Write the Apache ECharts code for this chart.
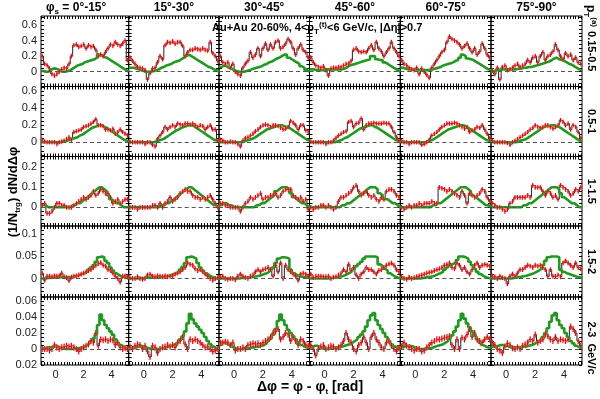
<!DOCTYPE html>
<html>
<head>
<meta charset="utf-8">
<script src="https://cdn.jsdelivr.net/npm/echarts@6.0.0/dist/echarts.min.js"></script>
<style>
  html, body { margin: 0; padding: 0; background: #fff; }
  #main { width: 600px; height: 399px; }
</style>
</head>
<body>
<div id="main"></div>
<script>
// columns: trigger angle w.r.t. event plane, rows: associated pT bins
var phiBins = ['0°-15°', '15°-30°', '30°-45°', '45°-60°', '60°-75°', '75°-90°'];
var ptBins = ['0.15-0.5', '0.5-1', '1-1.5', '1.5-2', '2-3  GeV/c'];

// 36 bins of 10 deg from -pi/3 to 5pi/3
var NB = 36;
var LO = -Math.PI / 3, HI = 5 * Math.PI / 3;

var xTickLabels = [0, 2, 4];
var yTickLabels = [[0, 0.2, 0.4, 0.6], [0, 0.2, 0.4, 0.6], [0, 0.1, 0.2], [0, 0.05, 0.1], [-0.02, 0, 0.02, 0.04, 0.06]];
var yMin = [-0.19, -0.167, -0.0935, -0.042, -0.02];
var yMax = [0.716, 0.656, 0.254, 0.119, 0.065];
var yMinorStep = [0.05, 0.05, 0.02, 0.01, 0.005];
var errRow = [0.03, 0.026, 0.012, 0.0055, 0.0038];

// red points (data), one array per phi_s column
var red1 = [
  [0.2, 0.1, 0.08, 0.04, -0.03, -0.05, -0.03, 0.0, 0.03, 0.05, 0.04, 0.1,
   0.2, 0.34, 0.35, 0.32, 0.33, 0.35, 0.3, 0.34, 0.32, 0.33, 0.28, 0.2,
   0.22, 0.2, 0.25, 0.3, 0.35, 0.33, 0.38, 0.35, 0.33, 0.36, 0.4, 0.15],
  [0.18, 0.14, 0.1, 0.06, 0.05, 0.04, 0.02, -0.1, -0.02, 0.04, 0.05, 0.12,
   0.2, 0.16, 0.34, 0.38, 0.37, 0.39, 0.36, 0.38, 0.38, 0.33, 0.2, 0.25,
   0.28, 0.28, 0.3, 0.29, 0.28, 0.3, 0.28, 0.27, 0.38, 0.24, 0.2, 0.14],
  [0.2, 0.12, 0.1, 0.12, 0.05, 0.1, 0.0, -0.03, -0.05, 0.05, 0.1, 0.14,
   0.25, 0.18, 0.22, 0.3, 0.2, 0.3, 0.36, 0.28, 0.35, 0.3, 0.38, 0.4,
   0.3, 0.32, 0.36, 0.42, 0.38, 0.3, 0.22, 0.3, 0.35, 0.28, 0.25, 0.18],
  [0.18, 0.12, 0.08, 0.06, 0.05, 0.07, 0.02, -0.05, 0.04, 0.05, 0.05, 0.06,
   0.06, 0.08, 0.1, 0.1, 0.14, 0.28, 0.3, 0.26, 0.25, 0.26, 0.25, 0.3,
   0.34, 0.28, 0.38, 0.3, 0.26, 0.2, 0.25, 0.3, 0.38, 0.3, 0.25, 0.2],
  [0.15, 0.1, 0.08, 0.05, 0.03, 0.02, 0.05, -0.03, 0.04, 0.0, -0.04, -0.08,
   0.05, 0.1, 0.15, 0.2, 0.25, 0.28, 0.38, 0.45, 0.42, 0.4, 0.38, 0.35,
   0.3, 0.33, 0.36, 0.3, 0.25, 0.3, 0.22, 0.26, 0.36, 0.3, 0.22, 0.18],
  [0.02, -0.03, 0.05, -0.1, 0.06, 0.08, 0.02, 0.03, 0.05, 0.08, 0.1, 0.06,
   0.08, 0.1, 0.15, 0.12, 0.18, 0.2, 0.12, 0.2, 0.25, 0.15, 0.2, 0.22,
   0.26, 0.35, 0.28, 0.2, 0.16, 0.24, 0.2, 0.22, 0.15, 0.18, 0.12, 0.1]
];
var red2 = [
  [0.03, 0.01, 0.0, 0.0, 0.0, 0.0, -0.02, 0.0, 0.01, 0.02, 0.04, 0.06,
   0.03, 0.12, 0.13, 0.14, 0.15, 0.18, 0.19, 0.2, 0.22, 0.24, 0.27, 0.2,
   0.2, 0.19, 0.15, 0.15, 0.14, 0.16, 0.1, 0.12, 0.15, 0.12, 0.1, 0.08],
  [0.01, 0.0, 0.0, 0.0, 0.0, 0.0, -0.02, 0.0, 0.0, -0.03, -0.05, 0.04,
   0.08, 0.12, 0.18, 0.15, 0.18, 0.2, 0.18, 0.22, 0.21, 0.2, 0.22, 0.22,
   0.21, 0.22, 0.2, 0.18, 0.2, 0.19, 0.15, 0.18, 0.2, 0.15, 0.15, 0.02],
  [0.03, 0.02, 0.0, 0.0, 0.01, 0.0, 0.0, -0.02, -0.05, 0.02, 0.05, 0.06,
   0.08, 0.1, 0.13, 0.15, 0.18, 0.2, 0.21, 0.2, 0.18, 0.2, 0.2, 0.19,
   0.17, 0.15, 0.16, 0.18, 0.25, 0.23, 0.2, 0.15, 0.2, 0.2, 0.14, 0.12],
  [0.01, 0.0, 0.0, 0.0, 0.0, 0.0, -0.02, 0.0, 0.0, 0.02, 0.05, 0.08,
   0.1, 0.12, 0.13, 0.24, 0.25, 0.18, 0.22, 0.23, 0.28, 0.15, 0.2, 0.22,
   0.22, 0.23, 0.22, 0.22, 0.22, 0.23, 0.22, 0.22, 0.18, 0.12, 0.06, 0.02],
  [0.02, 0.0, 0.0, -0.02, 0.0, 0.0, 0.0, 0.0, -0.03, -0.02, 0.0, 0.03,
   0.08, 0.1, 0.12, 0.15, 0.18, 0.2, 0.22, 0.22, 0.22, 0.23, 0.22, 0.2,
   0.18, 0.16, 0.18, 0.12, 0.14, 0.15, 0.18, 0.17, 0.2, 0.15, 0.1, 0.05],
  [0.02, 0.0, 0.0, 0.0, 0.0, 0.0, -0.01, -0.03, 0.0, 0.02, 0.04, 0.06,
   0.08, 0.1, 0.12, 0.15, 0.17, 0.2, 0.18, 0.17, 0.18, 0.2, 0.2, 0.18,
   0.16, 0.18, 0.2, 0.26, 0.24, 0.2, 0.22, 0.15, 0.2, 0.18, 0.12, 0.05]
];
var red3 = [
  [0.01, 0.02, -0.03, -0.03, -0.02, 0.0, 0.02, 0.02, 0.01, 0.01, 0.0, 0.0,
   0.0, 0.01, 0.02, 0.03, 0.04, 0.05, 0.04, 0.05, 0.06, 0.08, 0.06, 0.07,
   0.09, 0.08, 0.07, 0.07, 0.05, 0.02, 0.03, 0.04, 0.02, 0.03, 0.04, 0.04],
  [0.0, 0.0, 0.0, -0.01, 0.0, 0.0, 0.0, 0.0, 0.0, 0.01, 0.01, 0.0,
   0.02, 0.0, 0.02, 0.03, 0.05, 0.03, 0.04, 0.05, 0.07, 0.08, 0.09, 0.08,
   0.08, 0.06, 0.05, 0.05, 0.04, 0.05, 0.04, 0.05, 0.06, 0.04, 0.02, 0.0],
  [0.02, 0.02, 0.01, 0.01, 0.0, 0.0, 0.0, 0.0, -0.02, 0.0, 0.02, 0.03,
   0.05, 0.04, 0.05, 0.06, 0.07, 0.04, 0.05, 0.05, 0.06, 0.06, 0.07, 0.05,
   0.06, 0.08, 0.09, 0.09, 0.09, 0.06, 0.05, 0.04, 0.05, 0.03, 0.04, -0.01],
  [0.0, -0.01, 0.0, 0.0, 0.01, 0.01, 0.0, 0.01, 0.0, -0.01, 0.0, 0.03,
   0.05, 0.05, 0.06, 0.07, 0.08, 0.1, 0.11, 0.08, 0.06, 0.07, 0.08, 0.06,
   0.05, 0.06, 0.04, 0.03, 0.05, 0.04, 0.08, 0.09, 0.09, 0.08, 0.06, 0.05],
  [0.0, -0.01, 0.0, 0.01, 0.0, 0.01, 0.01, 0.02, 0.01, 0.02, 0.02, 0.02,
   0.03, 0.02, 0.02, 0.1, 0.095, 0.09, 0.08, 0.09, 0.08, 0.07, 0.06, 0.05,
   0.08, 0.06, 0.02, 0.07, 0.06, 0.05, 0.06, 0.07, 0.09, 0.08, 0.05, 0.03],
  [0.02, 0.01, 0.0, 0.0, -0.01, -0.02, -0.01, 0.02, 0.03, 0.05, 0.05, 0.05,
   0.05, 0.05, 0.06, 0.05, 0.11, 0.1, 0.1, 0.1, 0.08, 0.06, 0.08, 0.07,
   0.05, 0.06, 0.04, 0.11, 0.1, 0.09, 0.08, 0.06, 0.07, 0.09, 0.08, 0.1]
];
var red4 = [
  [0.012, -0.004, 0.005, 0.005, 0.004, 0.006, 0.005, 0.006, 0.012, 0.004, 0.002, -0.005,
   0.003, 0.005, 0.006, 0.008, 0.01, 0.012, 0.015, 0.018, 0.02, 0.025, 0.03, 0.034,
   0.036, 0.03, 0.028, 0.02, 0.018, 0.012, 0.005, 0.0, -0.008, 0.005, 0.006, 0.004],
  [0.002, 0.0, 0.0, 0.004, 0.0, -0.002, 0.0, 0.008, 0.01, 0.005, 0.004, 0.006,
   0.005, 0.004, 0.006, 0.004, 0.005, 0.006, 0.01, 0.012, 0.015, 0.02, 0.025, 0.035,
   0.032, 0.03, 0.022, 0.018, 0.02, 0.015, 0.01, 0.005, 0.0, -0.004, 0.0, 0.002],
  [0.003, 0.005, 0.0, -0.002, 0.0, 0.0, -0.003, 0.005, 0.01, 0.005, 0.002, 0.0,
   0.005, 0.008, 0.015, 0.02, 0.015, 0.02, 0.022, 0.025, 0.02, 0.005, 0.03, 0.015,
   0.035, 0.0, 0.03, 0.02, 0.015, 0.01, 0.005, -0.004, 0.01, 0.012, 0.01, 0.005],
  [0.01, 0.002, 0.005, 0.005, 0.005, 0.004, 0.004, 0.005, 0.0, 0.003, 0.004, 0.008,
   0.012, 0.02, 0.015, 0.032, 0.018, 0.025, 0.008, 0.0, 0.01, 0.015, 0.025, 0.02,
   0.02, 0.015, 0.01, 0.018, 0.02, 0.025, 0.03, 0.033, 0.035, 0.03, 0.02, 0.015],
  [0.004, 0.0, -0.002, 0.003, 0.0, 0.002, 0.004, 0.006, 0.008, 0.01, 0.012, 0.014,
   0.015, 0.018, 0.02, 0.022, 0.025, 0.03, 0.032, 0.035, 0.025, 0.022, 0.035, 0.03,
   0.02, 0.025, 0.015, 0.01, 0.02, 0.03, 0.035, 0.025, 0.03, 0.032, 0.03, 0.028],
  [0.005, 0.004, 0.0, 0.005, 0.002, 0.0, -0.012, 0.005, 0.01, 0.005, 0.012, 0.02,
   0.02, 0.025, 0.03, 0.028, 0.025, 0.03, 0.028, 0.03, 0.025, 0.02, 0.005, 0.02,
   0.005, 0.005, 0.008, 0.004, 0.035, 0.04, 0.035, 0.03, 0.025, 0.035, 0.025, 0.022]
];
var red5 = [
  [0.0, 0.0, 0.0, -0.002, 0.0, 0.005, 0.002, 0.0, 0.002, 0.003, 0.004, 0.003,
   0.004, 0.002, 0.0, -0.003, 0.0, 0.002, 0.004, 0.006, 0.01, 0.008, 0.02, 0.004,
   0.012, 0.011, 0.012, 0.01, 0.012, 0.011, 0.005, 0.008, 0.002, 0.0, 0.001, 0.0],
  [0.003, 0.0, 0.004, 0.006, 0.005, 0.0, 0.004, -0.003, -0.01, 0.004, 0.002, -0.005,
   0.0, 0.002, 0.003, 0.005, 0.003, 0.005, 0.002, 0.008, 0.01, 0.015, 0.006, 0.0,
   0.012, 0.01, 0.012, 0.01, 0.008, 0.005, 0.002, 0.003, 0.0, -0.003, -0.002, 0.0],
  [0.008, 0.008, 0.009, 0.008, 0.005, 0.008, -0.002, 0.0, 0.0, 0.002, 0.0, 0.005,
   0.006, 0.007, 0.006, 0.007, 0.005, 0.008, 0.01, 0.012, 0.015, 0.02, 0.022, 0.025,
   0.012, 0.015, 0.02, 0.018, 0.01, 0.015, 0.01, 0.005, 0.012, 0.01, 0.005, 0.004],
  [0.005, 0.0, -0.008, 0.0, 0.003, 0.005, 0.0, 0.002, 0.004, 0.003, 0.0, 0.002,
   0.005, 0.01, 0.02, 0.012, 0.008, 0.0, -0.003, 0.005, 0.008, 0.015, 0.008, 0.0,
   0.015, 0.02, 0.012, 0.008, 0.002, 0.0, 0.008, 0.01, 0.004, 0.0, -0.003, 0.001],
  [0.003, 0.008, 0.004, 0.002, 0.0, -0.002, 0.0, 0.0, -0.003, -0.002, 0.002, 0.005,
   0.008, 0.01, 0.012, 0.012, 0.013, 0.014, 0.015, 0.016, 0.005, 0.0, 0.012, 0.0,
   0.014, 0.012, 0.018, 0.025, 0.015, 0.02, 0.012, 0.01, 0.008, 0.012, 0.015, 0.012],
  [0.008, 0.005, 0.0, -0.002, -0.005, 0.003, 0.007, 0.005, 0.001, 0.0, 0.002, 0.0,
   0.004, 0.006, 0.008, 0.012, 0.01, 0.018, 0.008, 0.01, 0.012, 0.018, 0.016, 0.012,
   0.01, 0.015, 0.01, 0.012, 0.011, 0.01, 0.012, 0.028, 0.025, 0.02, 0.01, 0.004]
];

// green histograms
var green1 = [
  [0.01, 0.0, 0.0, 0.02, 0.04, 0.04, 0.03, 0.01, 0.0, 0.0, 0.01, 0.02,
   0.04, 0.06, 0.08, 0.09, 0.1, 0.12, 0.13, 0.14, 0.15, 0.16, 0.18, 0.22,
   0.21, 0.19, 0.18, 0.16, 0.14, 0.12, 0.1, 0.08, 0.06, 0.04, 0.02, 0.0],
  [0.05, 0.05, 0.04, 0.03, 0.02, 0.01, 0.0, 0.0, 0.0, 0.01, 0.02, 0.03,
   0.05, 0.06, 0.08, 0.09, 0.1, 0.12, 0.13, 0.14, 0.16, 0.18, 0.2, 0.22,
   0.2, 0.18, 0.16, 0.14, 0.12, 0.1, 0.08, 0.06, 0.05, 0.03, 0.02, 0.0],
  [0.06, 0.08, 0.07, 0.05, 0.04, 0.02, 0.01, 0.0, 0.0, 0.0, 0.01, 0.02,
   0.03, 0.04, 0.05, 0.06, 0.07, 0.09, 0.1, 0.12, 0.13, 0.15, 0.17, 0.18,
   0.2, 0.22, 0.22, 0.18, 0.16, 0.14, 0.12, 0.1, 0.07, 0.05, 0.02, 0.0],
  [0.03, 0.03, 0.02, 0.02, 0.02, 0.03, 0.03, 0.03, 0.03, 0.03, 0.03, 0.03,
   0.03, 0.04, 0.06, 0.08, 0.09, 0.1, 0.11, 0.12, 0.13, 0.14, 0.15, 0.16,
   0.2, 0.2, 0.16, 0.15, 0.15, 0.12, 0.1, 0.08, 0.06, 0.04, 0.02, 0.0],
  [0.05, 0.04, 0.03, 0.03, 0.03, 0.03, 0.03, 0.02, 0.02, 0.02, 0.02, 0.03,
   0.03, 0.04, 0.05, 0.06, 0.08, 0.09, 0.1, 0.11, 0.12, 0.14, 0.15, 0.18,
   0.22, 0.2, 0.17, 0.16, 0.15, 0.13, 0.11, 0.09, 0.07, 0.05, 0.03, 0.02],
  [0.0, 0.02, 0.02, 0.03, 0.03, 0.03, 0.03, 0.03, 0.03, 0.03, 0.04, 0.04,
   0.05, 0.05, 0.06, 0.06, 0.07, 0.08, 0.09, 0.1, 0.11, 0.12, 0.13, 0.15,
   0.17, 0.18, 0.16, 0.15, 0.14, 0.12, 0.1, 0.09, 0.07, 0.05, 0.03, 0.02]
];
var green2 = [
  [0.0, 0.0, 0.0, 0.0, 0.0, 0.0, 0.0, 0.0, 0.01, 0.01, 0.02, 0.03,
   0.04, 0.05, 0.06, 0.08, 0.09, 0.11, 0.13, 0.15, 0.17, 0.18, 0.19, 0.2,
   0.2, 0.18, 0.17, 0.15, 0.13, 0.11, 0.09, 0.07, 0.05, 0.03, 0.02, 0.01],
  [0.0, 0.0, 0.0, 0.0, 0.0, 0.0, 0.0, 0.0, 0.0, 0.0, 0.01, 0.02,
   0.03, 0.04, 0.06, 0.08, 0.1, 0.12, 0.14, 0.15, 0.17, 0.18, 0.19, 0.2,
   0.2, 0.19, 0.17, 0.15, 0.13, 0.11, 0.09, 0.07, 0.05, 0.03, 0.02, 0.01],
  [0.0, 0.0, 0.0, 0.0, 0.0, 0.0, 0.0, 0.0, 0.0, 0.01, 0.02, 0.03,
   0.04, 0.05, 0.07, 0.09, 0.11, 0.13, 0.15, 0.16, 0.17, 0.18, 0.19, 0.2,
   0.2, 0.19, 0.18, 0.17, 0.15, 0.13, 0.11, 0.09, 0.07, 0.05, 0.03, 0.02],
  [0.0, 0.0, 0.0, 0.0, 0.0, 0.0, 0.0, 0.0, 0.0, 0.0, 0.01, 0.02,
   0.03, 0.05, 0.06, 0.08, 0.1, 0.12, 0.14, 0.16, 0.17, 0.18, 0.19, 0.2,
   0.2, 0.18, 0.17, 0.15, 0.13, 0.11, 0.09, 0.07, 0.05, 0.03, 0.02, 0.0],
  [0.0, 0.0, 0.0, 0.0, 0.0, 0.0, 0.0, 0.0, 0.0, 0.0, 0.01, 0.02,
   0.03, 0.05, 0.07, 0.09, 0.11, 0.13, 0.15, 0.16, 0.17, 0.18, 0.19, 0.2,
   0.2, 0.19, 0.17, 0.15, 0.13, 0.11, 0.09, 0.07, 0.05, 0.03, 0.02, 0.01],
  [0.0, 0.0, 0.0, 0.0, 0.0, 0.0, 0.0, 0.0, 0.0, 0.0, 0.01, 0.02,
   0.03, 0.04, 0.06, 0.08, 0.1, 0.12, 0.14, 0.16, 0.18, 0.19, 0.19, 0.2,
   0.2, 0.19, 0.18, 0.16, 0.14, 0.12, 0.1, 0.08, 0.06, 0.04, 0.02, 0.01]
];
var green3 = [
  [0.01, 0.01, 0.0, 0.0, 0.0, 0.0, 0.0, 0.0, 0.0, 0.0, 0.0, 0.0,
   0.01, 0.01, 0.02, 0.02, 0.03, 0.04, 0.05, 0.06, 0.07, 0.08, 0.09, 0.1,
   0.1, 0.09, 0.08, 0.06, 0.04, 0.03, 0.02, 0.02, 0.01, 0.0, 0.0, 0.0],
  [0.0, 0.0, 0.0, 0.0, 0.0, 0.0, 0.0, 0.0, 0.0, 0.0, 0.0, 0.0,
   0.01, 0.01, 0.02, 0.02, 0.03, 0.04, 0.05, 0.06, 0.07, 0.08, 0.09, 0.1,
   0.1, 0.09, 0.08, 0.07, 0.06, 0.05, 0.04, 0.03, 0.02, 0.01, 0.01, 0.0],
  [0.01, 0.02, 0.02, 0.01, 0.01, 0.0, 0.0, 0.0, 0.0, 0.0, 0.0, 0.0,
   0.0, 0.0, 0.01, 0.01, 0.02, 0.02, 0.03, 0.04, 0.05, 0.06, 0.08, 0.09,
   0.1, 0.1, 0.1, 0.09, 0.07, 0.05, 0.04, 0.03, 0.02, 0.02, 0.01, 0.0],
  [0.0, 0.0, 0.0, 0.0, 0.0, 0.0, 0.0, 0.0, 0.0, 0.0, 0.0, 0.0,
   0.01, 0.01, 0.02, 0.02, 0.03, 0.04, 0.05, 0.06, 0.07, 0.08, 0.09, 0.1,
   0.1, 0.1, 0.09, 0.07, 0.06, 0.04, 0.04, 0.03, 0.02, 0.02, 0.01, 0.0],
  [0.0, 0.0, 0.0, 0.0, 0.0, 0.0, 0.0, 0.0, 0.0, 0.0, 0.0, 0.0,
   0.01, 0.01, 0.02, 0.02, 0.03, 0.04, 0.05, 0.06, 0.07, 0.08, 0.09, 0.1,
   0.1, 0.1, 0.09, 0.08, 0.06, 0.05, 0.04, 0.03, 0.02, 0.01, 0.01, 0.0],
  [0.0, 0.0, 0.0, 0.0, 0.0, 0.0, 0.0, 0.0, 0.0, 0.0, 0.0, 0.0,
   0.01, 0.01, 0.02, 0.02, 0.03, 0.04, 0.05, 0.06, 0.07, 0.08, 0.09, 0.1,
   0.1, 0.1, 0.09, 0.07, 0.05, 0.04, 0.03, 0.02, 0.02, 0.01, 0.0, 0.0]
];
var green4 = [
  [0.0, 0.0, 0.001, 0.002, 0.002, 0.002, 0.002, 0.003, 0.003, 0.003, 0.003, 0.003,
   0.004, 0.005, 0.006, 0.008, 0.01, 0.012, 0.015, 0.02, 0.025, 0.03, 0.038, 0.048,
   0.05, 0.048, 0.04, 0.035, 0.025, 0.018, 0.012, 0.008, 0.005, 0.003, 0.001, 0.0],
  [0.0, 0.0, 0.0, 0.0, 0.001, 0.001, 0.002, 0.002, 0.002, 0.002, 0.002, 0.003,
   0.003, 0.004, 0.005, 0.006, 0.008, 0.01, 0.012, 0.015, 0.02, 0.026, 0.035, 0.048,
   0.05, 0.048, 0.045, 0.035, 0.025, 0.018, 0.012, 0.008, 0.004, 0.002, 0.0, 0.0],
  [0.0, 0.0, 0.0, 0.0, 0.0, 0.0, 0.0, 0.0, 0.001, 0.001, 0.002, 0.002,
   0.003, 0.004, 0.005, 0.006, 0.008, 0.01, 0.012, 0.015, 0.02, 0.025, 0.035, 0.045,
   0.048, 0.048, 0.047, 0.045, 0.02, 0.012, 0.008, 0.005, 0.004, 0.003, 0.002, 0.001],
  [0.0, 0.0, 0.0, 0.0, 0.0, 0.0, 0.0, 0.0, 0.001, 0.002, 0.003, 0.004,
   0.005, 0.007, 0.01, 0.013, 0.017, 0.022, 0.028, 0.033, 0.038, 0.045, 0.05, 0.05,
   0.05, 0.05, 0.048, 0.032, 0.028, 0.022, 0.018, 0.012, 0.008, 0.004, 0.002, 0.0],
  [0.0, 0.0, 0.0, 0.0, 0.0, 0.0, 0.0, 0.0, 0.001, 0.002, 0.003, 0.004,
   0.005, 0.007, 0.01, 0.012, 0.015, 0.02, 0.025, 0.03, 0.033, 0.036, 0.042, 0.05,
   0.05, 0.048, 0.045, 0.038, 0.03, 0.022, 0.015, 0.01, 0.006, 0.003, 0.001, 0.0],
  [0.0, 0.0, 0.0, 0.0, 0.0, 0.0, 0.0, 0.0, 0.001, 0.002, 0.003, 0.004,
   0.005, 0.006, 0.008, 0.01, 0.012, 0.015, 0.018, 0.022, 0.03, 0.04, 0.048, 0.05,
   0.05, 0.05, 0.048, 0.02, 0.015, 0.012, 0.01, 0.008, 0.006, 0.004, 0.003, 0.002]
];
var green5 = [
  [0.001, 0.001, 0.002, 0.002, 0.003, 0.004, 0.003, 0.002, 0.001, 0.0, 0.0, 0.0,
   0.0, 0.0, 0.001, 0.001, 0.002, 0.003, 0.005, 0.007, 0.01, 0.013, 0.018, 0.03,
   0.043, 0.036, 0.03, 0.026, 0.022, 0.018, 0.012, 0.008, 0.005, 0.003, 0.001, 0.0],
  [0.0, 0.001, 0.002, 0.003, 0.004, 0.003, 0.002, 0.001, 0.0, 0.0, 0.0, 0.0,
   0.001, 0.001, 0.002, 0.003, 0.004, 0.005, 0.007, 0.009, 0.012, 0.016, 0.022, 0.032,
   0.044, 0.037, 0.032, 0.028, 0.024, 0.02, 0.015, 0.01, 0.006, 0.003, 0.001, 0.0],
  [0.005, 0.008, 0.007, 0.005, 0.003, 0.002, 0.001, 0.0, 0.0, 0.0, 0.0, 0.001,
   0.002, 0.002, 0.003, 0.003, 0.004, 0.005, 0.007, 0.01, 0.013, 0.018, 0.025, 0.035,
   0.043, 0.036, 0.03, 0.024, 0.02, 0.016, 0.012, 0.008, 0.005, 0.003, 0.002, 0.001],
  [0.002, 0.004, 0.004, 0.003, 0.001, 0.0, 0.0, 0.0, 0.001, 0.001, 0.002, 0.002,
   0.003, 0.004, 0.005, 0.006, 0.008, 0.01, 0.012, 0.015, 0.018, 0.022, 0.028, 0.036,
   0.042, 0.045, 0.036, 0.03, 0.025, 0.02, 0.015, 0.01, 0.006, 0.003, 0.002, 0.0],
  [0.002, 0.003, 0.004, 0.004, 0.003, 0.002, 0.001, 0.0, 0.0, 0.0, 0.001, 0.001,
   0.002, 0.003, 0.004, 0.005, 0.006, 0.008, 0.01, 0.013, 0.017, 0.022, 0.028, 0.036,
   0.044, 0.038, 0.032, 0.027, 0.022, 0.017, 0.012, 0.008, 0.005, 0.003, 0.002, 0.001],
  [0.003, 0.003, 0.004, 0.005, 0.005, 0.004, 0.003, 0.002, 0.002, 0.002, 0.002, 0.002,
   0.003, 0.003, 0.004, 0.005, 0.006, 0.008, 0.01, 0.012, 0.015, 0.02, 0.026, 0.034,
   0.042, 0.045, 0.036, 0.03, 0.026, 0.02, 0.015, 0.01, 0.007, 0.004, 0.002, 0.001]
];

var redRows = [red1, red2, red3, red4, red5];
var greenRows = [green1, green2, green3, green4, green5];

// pad geometry (pixels)
var colEdges = [41, 128.7, 219, 309.5, 400.3, 491, 582];
var rowEdges = [16, 86.5, 156.5, 226, 297, 365];

var FONT = 'Liberation Sans, Arial, Helvetica, sans-serif';
var BW = (HI - LO) / NB;
var edges = [], centers = [];
for (var i = 0; i <= NB; i++) edges.push(LO + i * BW);
for (var i = 0; i < NB; i++) centers.push(LO + (i + 0.5) * BW);

function stepData(vals) {
  // histogram outline: one point per bin edge, last value repeated
  return edges.map(function (e, i) { return [e, vals[Math.min(i, NB - 1)]]; });
}

function tickList(lo, hi, step) {
  var out = [];
  var start = Math.ceil(lo / step - 1e-9);
  for (var k = start; k * step <= hi + 1e-9; k++) out.push(+(k * step).toFixed(4));
  return out;
}
var xTicks = tickList(LO, HI, 0.2);

function renderErr(params, api) {
  var x = api.value(0), y = api.value(1), e = api.value(2);
  var pc = api.coord([x, y]);
  var ph = api.coord([x, y + e]);
  var pl = api.coord([x, y - e]);
  var w = api.size([BW, 0])[0];
  return {
    type: 'group',
    children: [
      { type: 'rect', shape: { x: pc[0] - w * 0.45, y: ph[1] + 0.5, width: w * 0.9, height: pl[1] - ph[1] - 1 },
        style: { fill: 'rgba(255,150,150,0.45)' } },
      { type: 'line', shape: { x1: pc[0], y1: ph[1], x2: pc[0], y2: pl[1] },
        style: { stroke: '#ff0000', lineWidth: 1.1 } },
      { type: 'line', shape: { x1: pc[0] - w * 0.35, y1: pc[1], x2: pc[0] + w * 0.35, y2: pc[1] },
        style: { stroke: '#ff0000', lineWidth: 1.1 } }
    ]
  };
}

var option = {
  animation: false,
  backgroundColor: '#fff',
  grid: [], xAxis: [], yAxis: [], series: [], graphic: []
};

for (var r = 0; r < 5; r++) {
  var yTicks = tickList(yMin[r], yMax[r], yMinorStep[r]);
  for (var c = 0; c < 6; c++) {
    var g = r * 6 + c;
    option.grid.push({
      left: colEdges[c], top: rowEdges[r],
      width: colEdges[c + 1] - colEdges[c], height: rowEdges[r + 1] - rowEdges[r],
      show: true, borderColor: '#000', borderWidth: 1, backgroundColor: 'transparent'
    });
    var tickStyle = { show: true, inside: true, length: 3, lineStyle: { color: '#000', width: 1 } };
    var noLine = { show: false, onZero: false };
    option.xAxis.push({
      type: 'value', gridIndex: g, min: LO, max: HI, position: 'bottom',
      axisLine: noLine, splitLine: { show: false },
      axisTick: Object.assign({ customValues: xTicks }, tickStyle),
      axisLabel: {
        show: r === 4, customValues: xTickLabels, margin: 4,
        fontSize: 11, color: '#222', fontFamily: FONT
      }
    });
    option.xAxis.push({
      type: 'value', gridIndex: g, min: LO, max: HI, position: 'top',
      axisLine: noLine, splitLine: { show: false },
      axisTick: Object.assign({ customValues: xTicks }, tickStyle),
      axisLabel: { show: false }
    });
    option.yAxis.push({
      type: 'value', gridIndex: g, min: yMin[r], max: yMax[r], position: 'left',
      axisLine: noLine, splitLine: { show: false },
      axisTick: Object.assign({ customValues: yTicks }, tickStyle),
      axisLabel: {
        show: c === 0, customValues: yTickLabels[r], margin: 4,
        fontSize: 11, color: '#222', fontFamily: FONT,
        formatter: function (v) { return String(Math.abs(+(+v).toFixed(3))); }
      }
    });
    option.yAxis.push({
      type: 'value', gridIndex: g, min: yMin[r], max: yMax[r], position: 'right',
      axisLine: noLine, splitLine: { show: false },
      axisTick: Object.assign({ customValues: yTicks }, tickStyle),
      axisLabel: { show: false }
    });

    var vals = redRows[r][c];
    var errs = centers.map(function (x, i) { return [x, vals[i], errRow[r]]; });

    option.series.push({
      type: 'line', xAxisIndex: 2 * g, yAxisIndex: 2 * g,
      data: stepData(vals), step: 'end', showSymbol: false, silent: true,
      lineStyle: { color: '#222', width: 1 }, z: 2,
      markLine: {
        silent: true, symbol: 'none', label: { show: false },
        lineStyle: { type: [4, 3], color: '#555', width: 1 },
        data: [{ yAxis: 0 }]
      }
    });
    option.series.push({
      type: 'line', xAxisIndex: 2 * g, yAxisIndex: 2 * g,
      data: stepData(greenRows[r][c]), step: 'end', showSymbol: false, silent: true,
      lineStyle: { color: '#1e9a1e', width: 2.6 }, z: 3
    });
    option.series.push({
      type: 'custom', xAxisIndex: 2 * g, yAxisIndex: 2 * g,
      renderItem: renderErr, data: errs, clip: true, silent: true, z: 4,
      encode: { x: 0, y: 1 }
    });
  }
}

// texts
var sub = { fontSize: 8, fontWeight: 'bold', fontFamily: FONT, verticalAlign: 'bottom', fill: '#000' };
var sup = { fontSize: 8, fontWeight: 'bold', fontFamily: FONT, verticalAlign: 'top', fill: '#000' };
var mainRich = function (size) {
  return { m: { fontSize: size, fontWeight: 'bold', fontFamily: FONT, fill: '#000', lineHeight: size + 4 }, s: sub, p: sup };
};

option.graphic.push({
  type: 'text', x: 46, y: 8,
  style: { text: '{m|φ}{s|s}{m| = ' + phiBins[0] + '}', rich: mainRich(12), textAlign: 'left', textVerticalAlign: 'middle' }
});
for (var c = 1; c < 6; c++) {
  option.graphic.push({
    type: 'text', x: (colEdges[c] + colEdges[c + 1]) / 2, y: 8,
    style: { text: '{m|' + phiBins[c] + '}', rich: mainRich(12), textAlign: 'center', textVerticalAlign: 'middle' }
  });
}
option.graphic.push({
  type: 'text', x: 212, y: 28, z: 10,
  style: { text: '{m|Au+Au 20-60%, 4<p}{s|T}{p|(t)}{m|<6 GeV/c, |Δη|>0.7}', rich: mainRich(11), textAlign: 'left', textVerticalAlign: 'middle' }
});
for (var r = 0; r < 5; r++) {
  option.graphic.push({
    type: 'text', x: 591, y: r === 4 ? 348 : (rowEdges[r] + rowEdges[r + 1]) / 2, rotation: -Math.PI / 2,
    style: { text: '{m|' + ptBins[r] + '}', rich: mainRich(11), textAlign: 'center', textVerticalAlign: 'middle' }
  });
}
option.graphic.push({
  type: 'text', x: 590, y: 5, rotation: -Math.PI / 2,
  style: { text: '{m|p}{s|T}{p|(a)}', rich: mainRich(12), textAlign: 'left', textVerticalAlign: 'middle' }
});
option.graphic.push({
  type: 'text', x: 13, y: 192, rotation: Math.PI / 2,
  style: { text: '{m|(1/N}{s|trg}{m|) dN/dΔφ}', rich: mainRich(13), textAlign: 'center', textVerticalAlign: 'middle' }
});
option.graphic.push({
  type: 'text', x: 310, y: 387,
  style: { text: '{m|Δφ = φ - φ}{s|t}{m| [rad]}', rich: mainRich(14), textAlign: 'center', textVerticalAlign: 'middle' }
});

var chart = echarts.init(document.getElementById('main'), null, { renderer: 'canvas' });
chart.setOption(option);
</script>
</body>
</html>
